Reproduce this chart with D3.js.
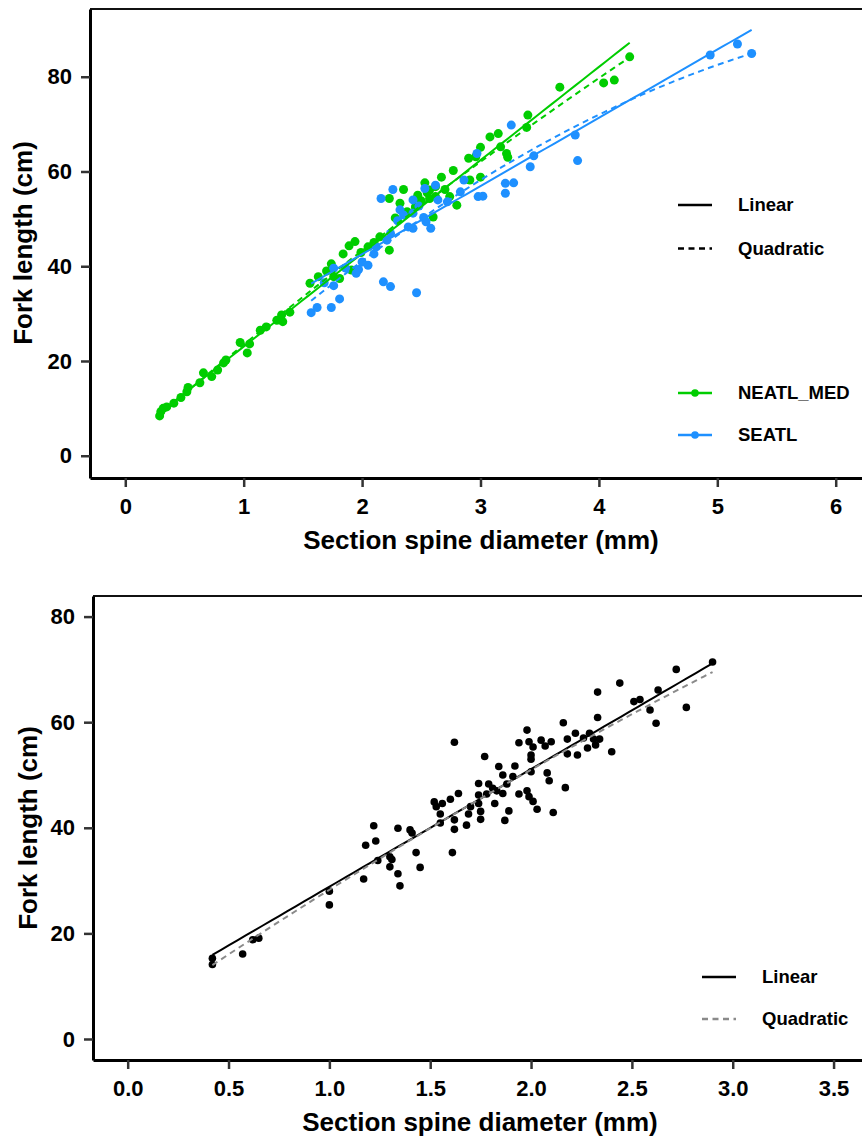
<!DOCTYPE html>
<html>
<head>
<meta charset="utf-8">
<script src="https://cdn.jsdelivr.net/npm/d3@7"></script>
<style>
  body { margin: 0; background: #fff; }
  svg text { font-family: "Liberation Sans", Arial, sans-serif; font-weight: bold; fill: #000; }
</style>
</head>
<body>
<div id="chart"></div>
<script>
// --- top panel data: spine diameter (mm) vs fork length (cm) by stock
var neatlX = [0.29,0.30,0.32,0.35,0.41,0.47,0.52,0.53,0.63,0.66,0.73,0.78,0.83,0.85,0.97,1.03,1.05,1.14,1.19,1.28,
  1.32,1.33,1.39,1.56,1.63,1.70,1.74,1.76,1.81,1.84,1.89,1.91,1.94,1.99,2.05,2.10,2.15,2.23,2.23,2.28,
  2.32,2.35,2.38,2.45,2.47,2.50,2.53,2.55,2.57,2.57,2.60,2.62,2.62,2.67,2.70,2.74,2.77,2.80,2.90,2.91,
  2.96,3.00,3.00,3.08,3.15,3.17,3.22,3.23,3.39,3.40,3.67,4.04,4.13,4.26];
var neatlY = [8.4,9.3,10.0,10.3,11.1,12.3,13.5,14.4,15.4,17.5,16.7,18.1,19.6,20.2,23.9,21.7,23.6,26.5,27.2,28.6,
  29.7,28.3,30.3,36.4,37.8,39.0,40.5,37.8,37.4,42.6,44.3,39.2,45.2,42.9,44.1,45.0,46.2,43.4,54.3,50.2,
  53.3,56.2,51.5,52.5,55.0,53.8,57.6,55.5,56.1,54.3,50.4,54.7,56.8,58.8,56.2,54.7,60.2,52.9,62.8,58.2,
  63.1,58.8,65.1,67.3,68.0,65.2,63.8,63.0,69.3,71.9,77.8,78.7,79.3,84.2];
var seatlX = [1.57,1.62,1.68,1.74,1.76,1.76,1.81,1.86,1.95,1.97,2.00,2.05,2.10,2.12,2.16,2.18,2.21,2.24,2.24,2.26,
  2.30,2.32,2.35,2.39,2.43,2.43,2.43,2.46,2.48,2.52,2.53,2.54,2.58,2.62,2.64,2.72,2.83,2.86,2.97,2.98,
  3.02,3.21,3.21,3.26,3.28,3.42,3.45,3.80,3.82,4.94,5.17,5.29];
var seatlY = [30.2,31.3,36.5,31.3,35.9,39.6,33.1,39.6,38.5,39.3,40.9,40.2,42.6,44.1,54.3,36.7,45.5,35.7,46.9,56.2,
  49.6,51.9,50.8,48.3,48.0,51.2,54.0,34.4,52.7,50.3,56.4,49.4,48.0,57.1,54.0,53.6,55.7,58.2,63.8,54.7,
  54.8,57.5,55.4,69.8,57.6,61.0,63.3,67.7,62.3,84.6,86.9,84.9];

// fitted coefficients (intercept, x, x^2)
var neatlLinear = [3.35, 19.68];
var neatlQuad = [2.5, 21.5, -0.55];
var seatlLinear = [13.73, 14.4];
var seatlQuad = [-3.09, 25.40, -1.657];

// --- bottom panel data: pooled sample
var allX = [0.42,0.42,0.57,0.62,0.65,1.00,1.00,1.17,1.18,1.22,1.23,1.24,1.30,1.31,1.30,1.34,1.35,1.34,1.40,1.41,
  1.43,1.45,1.52,1.53,1.55,1.55,1.56,1.60,1.61,1.62,1.62,1.62,1.64,1.68,1.69,1.70,1.74,1.74,1.74,1.75,
  1.75,1.77,1.78,1.79,1.81,1.82,1.83,1.84,1.86,1.86,1.87,1.88,1.89,1.91,1.92,1.94,1.94,1.98,1.98,1.99,
  1.99,2.00,2.00,2.00,2.01,2.01,2.03,2.05,2.07,2.08,2.09,2.10,2.11,2.16,2.17,2.18,2.18,2.22,2.23,2.26,
  2.28,2.29,2.31,2.32,2.33,2.33,2.34,2.40,2.44,2.51,2.54,2.59,2.62,2.63,2.72,2.77,2.90];
var allY = [15.3,14.1,16.1,18.8,19.1,28.0,25.4,30.3,36.7,40.4,37.5,33.8,34.5,34.0,32.6,31.3,29.0,39.9,39.6,39.0,
  35.3,32.5,44.9,44.0,42.6,40.9,44.6,45.4,35.3,39.7,41.5,56.2,46.5,40.5,42.6,44.0,46.2,44.6,48.4,43.1,
  41.6,53.5,46.4,48.3,47.5,44.6,47.0,51.6,50.0,46.5,41.4,48.3,43.2,49.7,51.7,56.1,46.4,58.5,47.0,56.3,
  45.9,50.6,53.8,53.0,55.3,45.0,43.5,56.6,55.5,50.4,48.9,56.3,42.9,59.9,47.6,56.8,54.0,57.9,53.8,57.0,
  55.1,57.9,56.8,55.7,65.7,60.9,56.8,54.4,67.4,63.9,64.3,62.3,59.8,66.1,70.0,62.8,71.4];
var allLinear = [6.57, 22.27];
var allQuad = [3.19, 26.22, -1.157];

var groupNames = ["NEATL_MED", "SEATL"];
var fitNames = ["Linear", "Quadratic"];
var xTicksTop = [0, 1, 2, 3, 4, 5, 6];
var xTicksBottom = [0, 0.5, 1, 1.5, 2, 2.5, 3, 3.5];
var yTicks = [0, 20, 40, 60, 80];

var W = 862, H = 1139;
var green = "#00cd00", blue = "#1e90ff";

var svg = d3.select("#chart").append("svg")
  .attr("width", W).attr("height", H);

function poly(c, v) {
  var s = 0;
  for (var i = 0; i < c.length; i++) s += c[i] * Math.pow(v, i);
  return s;
}

function curve(c, lo, hi) {
  return d3.range(61).map(function (i) {
    var v = lo + (hi - lo) * i / 60;
    return [v, poly(c, v)];
  });
}

function zip(xs, ys) {
  return xs.map(function (d, i) { return [d, ys[i]]; });
}

function panel(p) {
  var x = d3.scaleLinear().domain(p.xDomain).range([p.left, W]);
  var y = d3.scaleLinear().domain(p.yDomain).range([p.bottom, p.top]);
  var g = svg.append("g");

  // top border
  g.append("line")
    .attr("x1", p.left).attr("x2", W)
    .attr("y1", p.top).attr("y2", p.top)
    .attr("stroke", "#111").attr("stroke-width", 2);

  var xa = g.append("g")
    .attr("transform", "translate(0," + p.bottom + ")")
    .call(d3.axisBottom(x).tickValues(p.xTicks).tickFormat(p.xFormat)
      .tickSize(9).tickSizeOuter(0).tickPadding(11));
  var ya = g.append("g")
    .attr("transform", "translate(" + p.left + ",0)")
    .call(d3.axisLeft(y).tickValues(yTicks).tickFormat(d3.format("d"))
      .tickSize(9).tickSizeOuter(0).tickPadding(9));
  [xa, ya].forEach(function (a) {
    a.select(".domain").attr("stroke", "#000").attr("stroke-width", 3);
    a.selectAll(".tick line").attr("stroke", "#333").attr("stroke-width", 2.5);
    a.selectAll(".tick text").style("font-size", "22px").attr("fill", "#000");
  });

  g.append("text")
    .attr("x", p.xTitleX).attr("y", p.xTitleY)
    .attr("text-anchor", "middle").style("font-size", "26px")
    .text("Section spine diameter (mm)");
  g.append("text")
    .attr("transform", "translate(" + p.yTitleX + "," + p.yTitleY + ") rotate(-90)")
    .attr("text-anchor", "middle").attr("dy", "0.35em").style("font-size", "26px")
    .text("Fork length (cm)");

  var line = d3.line()
    .x(function (d) { return x(d[0]); })
    .y(function (d) { return y(d[1]); });

  p.series.forEach(function (s) {
    g.append("g").selectAll("circle")
      .data(zip(s.xs, s.ys))
      .enter().append("circle")
      .attr("cx", function (d) { return x(d[0]); })
      .attr("cy", function (d) { return y(d[1]); })
      .attr("r", p.r)
      .attr("fill", s.color);
  });
  p.series.forEach(function (s) {
    var lo = d3.min(s.xs), hi = d3.max(s.xs);
    g.append("path")
      .attr("d", line(curve(s.lin, lo, hi)))
      .attr("fill", "none").attr("stroke", s.color).attr("stroke-width", 2);
    g.append("path")
      .attr("d", line(curve(s.quad, lo, hi)))
      .attr("fill", "none").attr("stroke", s.quadColor || s.color)
      .attr("stroke-width", 2).attr("stroke-dasharray", "6,4.5");
  });
  return g;
}

var topPanel = panel({
  left: 90, top: 9, bottom: 478,
  xDomain: [-0.298, 6.222], yDomain: [-4.7, 94.3],
  xTicks: xTicksTop, xFormat: d3.format("d"),
  xTitleX: 481, xTitleY: 549, yTitleX: 23, yTitleY: 243,
  r: 4.5,
  series: [
    { xs: neatlX, ys: neatlY, color: green, lin: neatlLinear, quad: neatlQuad },
    { xs: seatlX, ys: seatlY, color: blue, lin: seatlLinear, quad: seatlQuad }
  ]
});

var bottomPanel = panel({
  left: 93, top: 596, bottom: 1060,
  xDomain: [-0.172, 3.641], yDomain: [-3.98, 83.9],
  xTicks: xTicksBottom, xFormat: d3.format(".1f"),
  xTitleX: 480, xTitleY: 1131, yTitleX: 28, yTitleY: 828,
  r: 3.8,
  series: [
    { xs: allX, ys: allY, color: "#000", quadColor: "#8a8a8a", lin: allLinear, quad: allQuad }
  ]
});

// legends
function legendRow(g, x0, yy, label, stroke, dash, dot) {
  g.append("line")
    .attr("x1", x0).attr("x2", x0 + 34).attr("y1", yy).attr("y2", yy)
    .attr("stroke", stroke).attr("stroke-width", 2.5)
    .attr("stroke-dasharray", dash ? "6,4.5" : null);
  if (dot) {
    g.append("circle").attr("cx", x0 + 17).attr("cy", yy).attr("r", 3.8).attr("fill", stroke);
  }
  g.append("text")
    .attr("x", x0 + 60).attr("y", yy).attr("dy", "0.35em")
    .style("font-size", "18.5px").text(label);
}

legendRow(topPanel, 678, 205, fitNames[0], "#000", false, false);
legendRow(topPanel, 678, 248.5, fitNames[1], "#000", true, false);
legendRow(topPanel, 678, 393, groupNames[0], green, false, true);
legendRow(topPanel, 678, 435, groupNames[1], blue, false, true);

legendRow(bottomPanel, 702, 977, fitNames[0], "#000", false, false);
legendRow(bottomPanel, 702, 1019, fitNames[1], "#8a8a8a", true, false);
</script>
</body>
</html>
